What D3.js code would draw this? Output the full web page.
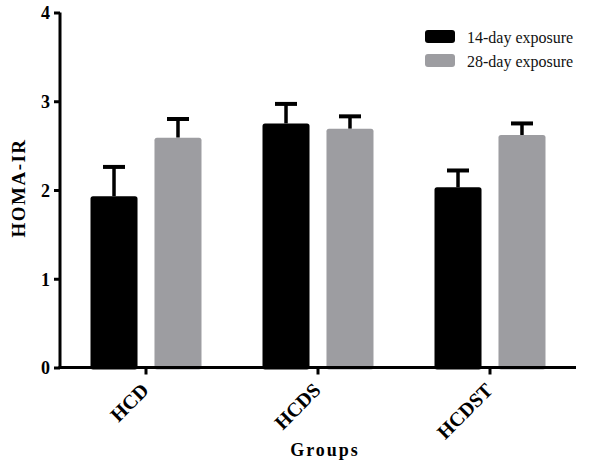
<!DOCTYPE html>
<html>
<head>
  <script src="https://d3js.org/d3.v7.min.js"></script>
  <style>
    body { margin: 0; background: #fff; }
    svg text { font-family: "Liberation Serif", "Times New Roman", serif; }
  </style>
</head>
<body>
  <div id="chart"></div>
  <script>
    // data
    const groups = ["HCD", "HCDS", "HCDST"];
    const seriesNames = ["14-day exposure", "28-day exposure"];
    const seriesColors = ["#000000", "#9d9da1"];
    const mean14 = [1.93, 2.75, 2.03];
    const err14 = [0.33, 0.22, 0.19];
    const mean28 = [2.59, 2.69, 2.62];
    const err28 = [0.21, 0.14, 0.13];
    const yTicks = [0, 1, 2, 3, 4];

    const W = 600, H = 465;
    const svg = d3.select("#chart").append("svg")
      .attr("width", W).attr("height", H);

    const x = d3.scaleBand().domain(groups).range([60, 576]).padding(0);
    const sub = d3.scaleBand().domain(seriesNames).range([30.5, 141.5]).paddingInner(0.265);
    const y = d3.scaleLinear().domain([0, 4]).range([367.5, 12.5]);

    // bars
    const rows = [];
    groups.forEach((g, i) => {
      rows.push({ g, s: seriesNames[0], v: mean14[i], e: err14[i], c: seriesColors[0] });
      rows.push({ g, s: seriesNames[1], v: mean28[i], e: err28[i], c: seriesColors[1] });
    });

    // error bars (drawn first, bar covers the lower part)
    const eb = svg.append("g");
    rows.forEach(d => {
      const cx = x(d.g) + sub(d.s) + sub.bandwidth() / 2;
      eb.append("line")
        .attr("x1", cx).attr("x2", cx)
        .attr("y1", y(d.v)).attr("y2", y(d.v + d.e))
        .attr("stroke", "#000").attr("stroke-width", 3.5);
      eb.append("line")
        .attr("x1", cx - 11).attr("x2", cx + 11)
        .attr("y1", y(d.v + d.e)).attr("y2", y(d.v + d.e))
        .attr("stroke", "#000").attr("stroke-width", 4);
    });

    svg.append("g").selectAll("rect").data(rows).join("rect")
      .attr("x", d => x(d.g) + sub(d.s))
      .attr("y", d => y(d.v))
      .attr("width", sub.bandwidth())
      .attr("height", d => y(0) - y(d.v) + 2)
      .attr("rx", 2.5)
      .attr("fill", d => d.c);

    // y axis
    const yAxis = svg.append("g")
      .attr("transform", "translate(60,0)")
      .call(d3.axisLeft(y).tickValues(yTicks).tickSize(6).tickPadding(4).tickFormat(d3.format("d")));
    yAxis.select(".domain").attr("stroke-width", 3).attr("d", `M0,${y(4)}V${y(0) + 1.5}`);
    yAxis.selectAll(".tick line").attr("stroke-width", 3);
    yAxis.selectAll(".tick text")
      .attr("font-family", "Liberation Serif").attr("font-size", 18).attr("font-weight", "bold")
      .attr("dy", "0.35em");

    // x axis
    const xAxis = svg.append("g")
      .attr("transform", `translate(0,${y(0)})`)
      .call(d3.axisBottom(x).tickSize(7).tickPadding(6));
    xAxis.select(".domain").attr("stroke-width", 3).attr("d", `M58.5,0H576`);
    xAxis.selectAll(".tick line").attr("stroke-width", 3);
    xAxis.selectAll(".tick text")
      .attr("font-family", "Liberation Serif").attr("font-size", 20).attr("font-weight", "bold")
      .attr("text-anchor", "end")
      .attr("y", 0)
      .attr("dy", "0.35em")
      .attr("transform", "translate(-1,19) rotate(-45)");

    // axis titles
    svg.append("text")
      .attr("transform", "translate(25,188) rotate(-90)")
      .attr("text-anchor", "middle")
      .attr("font-size", 19).attr("font-weight", "bold").attr("letter-spacing", 1.5)
      .text("HOMA-IR");

    svg.append("text")
      .attr("x", 325).attr("y", 456)
      .attr("text-anchor", "middle")
      .attr("font-size", 18).attr("font-weight", "bold").attr("letter-spacing", 2)
      .text("Groups");

    // legend
    const legend = svg.append("g").attr("transform", "translate(425,30)");
    seriesNames.forEach((name, i) => {
      const gg = legend.append("g").attr("transform", `translate(0,${i * 24})`);
      gg.append("rect").attr("width", 30).attr("height", 13).attr("rx", 3).attr("fill", seriesColors[i]);
      gg.append("text").attr("x", 42).attr("y", 13)
        .attr("font-size", 16).attr("fill", "#111").text(name);
    });
  </script>
</body>
</html>
